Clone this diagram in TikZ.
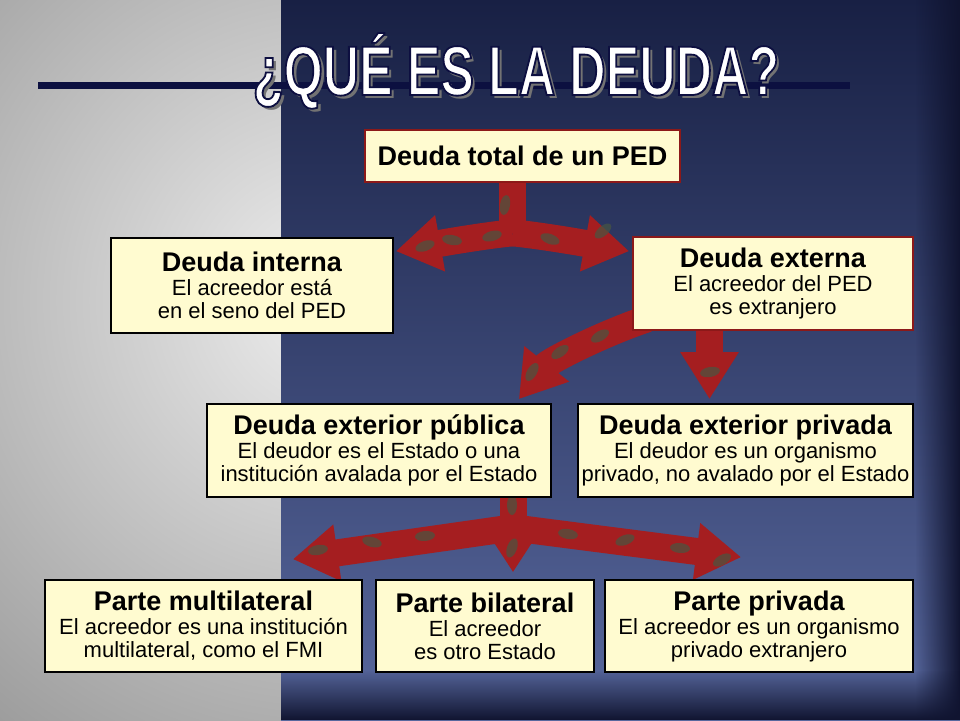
\documentclass[tikz,border=0pt]{standalone}
\usepackage{fontspec}
\setmainfont{Liberation Sans}
\newfontfamily\titlefont[FakeStretch=0.72]{Liberation Sans Bold}
\usetikzlibrary{arrows.meta,fadings}

\pgfdeclarelayer{back}
\pgfdeclarelayer{mid}
\pgfsetlayers{back,mid,main}

\definecolor{boxfill}{RGB}{255,251,208}
\definecolor{boxred}{RGB}{140,25,25}
\definecolor{arrowred}{RGB}{165,30,32}
\definecolor{patchgreen}{RGB}{72,86,66}
\definecolor{navyline}{RGB}{12,16,64}
\definecolor{skytop}{RGB}{24,32,68}
\definecolor{skymid}{RGB}{50,64,110}
\definecolor{skybot}{RGB}{88,104,158}
\definecolor{skyedge}{RGB}{16,20,48}
\definecolor{leftlight}{RGB}{238,238,238}
\definecolor{leftdark}{RGB}{132,132,132}

\newcommand{\cardhead}[1]{{\fontsize{27}{30}\selectfont\bfseries #1}\\[1pt]}
% white letters with a dark outline
\newcommand{\outlined}[1]{\special{pdf:literal direct 2 Tr 1.8 w 0.05 0.06 0.25 RG}#1\special{pdf:literal direct 0 Tr}}

\begin{document}
\begin{tikzpicture}
        [x=1pt,y=1pt,
         card/.style={draw,line width=1.6pt,fill=boxfill,align=center,inner sep=0pt,
                      font=\fontsize{22}{23}\selectfont},
         trunk/.style={draw=arrowred,line width=27pt},
         bigarrow/.style={draw=arrowred,line width=27pt,
                          -{Triangle[length=45pt,width=54pt,fill=arrowred]}},
         smallhead/.style={draw=arrowred,line width=27pt,
                           -{Triangle[length=33pt,width=40pt,fill=arrowred]}},
         titletext/.style={anchor=base,inner sep=0pt,
                           font=\titlefont\fontsize{70}{70}\selectfont}]

        \useasboundingbox (0,0) rectangle (960,-720);

        % background panels and title rule
        \begin{pgfonlayer}{back}
          \begin{scope}
            \clip (0,0) rectangle (281,-720);
            \shade[inner color=leftlight,outer color=leftdark] (330,-300) circle (700);
          \end{scope}
          \shade[top color=skytop,middle color=skymid,bottom color=skybot] (281,0) rectangle (960,-720);
          \fill[skyedge,path fading=west] (915,0) rectangle (960,-720);
          \fill[skyedge,path fading=north] (281,-670) rectangle (960,-720);
          \fill[navyline] (38,-82) rectangle (850,-89);
        \end{pgfonlayer}

        % title
        \node[titletext,text=black!55] at (519.5,-98.5) {¿QUÉ ES LA DEUDA?};
        \node[titletext,text=white] (title) at (516,-95) {\outlined{¿QUÉ ES LA DEUDA?}};

        % boxes
        \node[card,draw=boxred,minimum width=315pt,minimum height=52pt] (total) at (522.5,-156)
          {\fontsize{27}{30}\selectfont\bfseries Deuda total de un PED};
        \node[card,minimum width=282pt,minimum height=95pt] (interna) at (252,-285.5)
          {\cardhead{Deuda interna} El acreedor está\\ en el seno del PED};
        \node[card,draw=boxred,minimum width=280pt,minimum height=93pt] (externa) at (773,-283.5)
          {\cardhead{Deuda externa} El acreedor del PED\\ es extranjero};
        \node[card,minimum width=344pt,minimum height=93pt] (publica) at (379,-450.5)
          {\cardhead{Deuda exterior pública} El deudor es el Estado o una\\ institución avalada por el Estado};
        \node[card,minimum width=335pt,minimum height=93pt] (privada) at (745.5,-450.5)
          {\cardhead{Deuda exterior privada} El deudor es un organismo\\ privado, no avalado por el Estado};
        \node[card,minimum width=317pt,minimum height=92pt] (multi) at (203.5,-626)
          {\cardhead{Parte multilateral} El acreedor es una institución\\ multilateral, como el FMI};
        \node[card,minimum width=218pt,minimum height=92pt] (bilat) at (485,-626)
          {\cardhead{Parte bilateral} El acreedor\\ es otro Estado};
        \node[card,minimum width=308pt,minimum height=92pt] (privext) at (759,-626)
          {\cardhead{Parte privada} El acreedor es un organismo\\ privado extranjero};

        % arrows
        \begin{pgfonlayer}{mid}
          \draw[trunk] ([xshift=-10pt]total.south) -- ++(0,-50) coordinate (fork1);
          \draw[bigarrow] (fork1) .. controls +(-30,-3) and +(45,8) .. ([shift={(2,-14)}]interna.north east);
          \draw[bigarrow] (fork1) .. controls +(30,-3) and +(-45,8) .. ([shift={(-3,-15)}]externa.north west);

          \draw[bigarrow] ([shift={(15,12)}]externa.south west) .. controls +(-45,-15) and +(30,38) .. ([shift={(-33,4)}]publica.north east);
          \draw[bigarrow,-{Triangle[length=47pt,width=55pt,fill=arrowred]}] ([xshift=-63.5pt]externa.south) -- ([shift={(-36,4)}]privada.north);

          \draw[trunk] ([xshift=134pt]publica.south) -- ++(0,-30) coordinate (fork2);
          \draw[bigarrow] (fork2) -- ([shift={(-70,20)}]multi.north east);
          \draw[bigarrow] (fork2) -- ([shift={(137,22)}]privext.north west);
          \draw[smallhead] (fork2) -- ([shift={(28,7)}]bilat.north);

          \foreach \px/\py/\rot in {505/-205/80,425/-246/20,452/-240/-10,492/-236/15,550/-239/-20,603/-231/40,
                                    600/-336/30,560/-352/35,532/-372/60,710/-372/10,
                                    512/-505/90,318/-550/10,372/-542/-15,425/-536/5,512/-548/70,
                                    568/-534/-10,625/-540/20,680/-548/-5,722/-560/30}
            \fill[patchgreen,opacity=0.7,rotate around={\rot:(\px,\py)}] (\px,\py) ellipse (10 and 5);
        \end{pgfonlayer}
      \end{tikzpicture}
\end{document}
